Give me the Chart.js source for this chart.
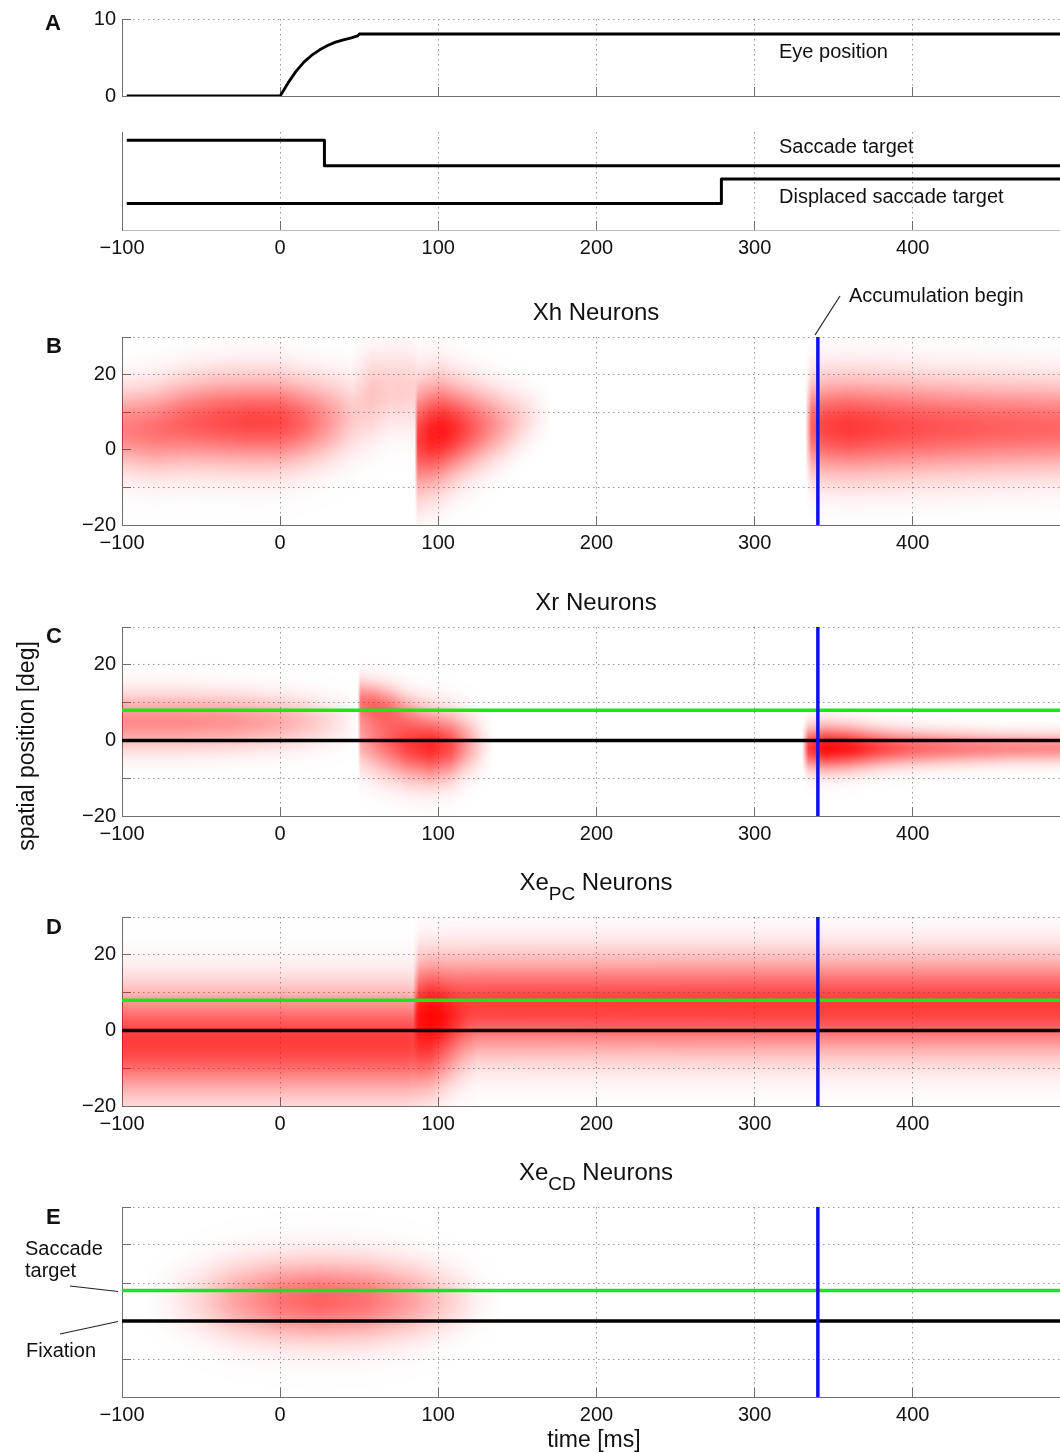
<!DOCTYPE html>
<html>
<head>
<meta charset="utf-8">
<script src="https://cdn.jsdelivr.net/npm/chart.js@4.4.1/dist/chart.umd.min.js"></script>
<style>
  html, body { margin:0; padding:0; background:#fff; overflow:hidden; }
  #fig { position:relative; width:1060px; height:1453px; overflow:hidden;
         font-family:"Liberation Sans", Arial, Helvetica, sans-serif; color:#111; }
  #fig canvas { position:absolute; left:0; }
  .t { position:absolute; white-space:nowrap; line-height:1; }
  .lt { font-size:20px; }
  .pl { font-size:22px; font-weight:bold; }
  .ti { font-size:24px; width:600px; text-align:center; left:296px; }
  .sub { font-size:19px; position:relative; top:10px; }
</style>
</head>
<body>
<div id="fig">
  <canvas id="cA1"></canvas>
  <canvas id="cA2"></canvas>
  <canvas id="cB"></canvas>
  <canvas id="cC"></canvas>
  <canvas id="cD"></canvas>
  <canvas id="cE"></canvas>

  <svg width="1060" height="1453" style="position:absolute;left:0;top:0;pointer-events:none">
    <line x1="815" y1="335" x2="840" y2="296" stroke="#222" stroke-width="1.2"/>
    <line x1="70" y1="1286" x2="118" y2="1291.5" stroke="#222" stroke-width="1.2"/>
    <line x1="60" y1="1334" x2="118" y2="1321.5" stroke="#222" stroke-width="1.2"/>
  </svg>

  <div class="t pl" style="left:45px;top:12.1px">A</div>
  <div class="t pl" style="left:46px;top:335.4px">B</div>
  <div class="t pl" style="left:46px;top:624.7px">C</div>
  <div class="t pl" style="left:46px;top:916.4px">D</div>
  <div class="t pl" style="left:46px;top:1206.4px">E</div>

  <div class="t lt" style="left:779px;top:41.4px">Eye position</div>
  <div class="t lt" style="left:779px;top:136.4px">Saccade target</div>
  <div class="t lt" style="left:779px;top:185.8px">Displaced saccade target</div>
  <div class="t lt" style="left:849px;top:284.8px">Accumulation begin</div>

  <div class="t ti" style="top:299.7px">Xh Neurons</div>
  <div class="t ti" style="top:590.4px">Xr Neurons</div>
  <div class="t ti" style="top:869.7px">Xe<span class="sub">PC</span> Neurons</div>
  <div class="t ti" style="top:1160.4px">Xe<span class="sub">CD</span> Neurons</div>

  <div class="t lt" style="left:25px;top:1238.1px">Saccade</div>
  <div class="t lt" style="left:25px;top:1260.1px">target</div>
  <div class="t lt" style="left:26px;top:1339.8px">Fixation</div>

  <div class="t" style="font-size:23px;left:26px;top:746px;transform:translate(-50%,-50%) rotate(-90deg)">spatial position [deg]</div>
  <div class="t" style="font-size:23px;left:294px;width:600px;text-align:center;top:1427.5px">time [ms]</div>
</div>

<script>
// ================= DATA =================
// axes
const timeRange = [-100, 495];
const timeTicks = [-100, 0, 100, 200, 300, 400];
const posRange = [-20, 30];
const posTicks = [-20, -10, 0, 10, 20, 30];
const posLabelled = [-20, 0, 20];
const eyeRange = [0, 10];
const eyeTicks = [0, 10];
const targetRange = [0, 10];

// panel A: eye position [deg] over time [ms]
const eyeT = [-97, 0, 5, 10, 15, 20, 25, 30, 35, 40, 45, 49, 50, 500];
const eyeV = [0, 0, 1.7, 3.2, 4.4, 5.3, 6.0, 6.55, 7.0, 7.3, 7.55, 7.8, 8.05, 8.05];
// panel A: target traces (schematic levels)
const saccadeTargetT = [-97, 28, 500];
const saccadeTargetV = [9.15, 6.55, 6.55];
const displacedTargetT = [-97, 279, 500];
const displacedTargetV = [2.7, 5.2, 5.2];

// reference markers
const fixationPos = 0;
const targetPos = 8;
const accumulationStart = 340;

// activity bands, rows: [time ms, centre deg, width deg, intensity 0..1]
// B: Xh neurons
const xhFixation = [[-100,5.5,32,0.5],[-80,5.5,34,0.56],[-60,7,35,0.63],[-40,7.5,36,0.69],[-20,7.5,36,0.73],[0,7.5,36,0.72],[15,7.5,34,0.6],[30,8,33,0.42],[45,9,32,0.22],[60,10,31,0.07],[70,10,31,0]];
const xhGhost = [[45,16,30,0],[58,16,33,0.18],[75,16,33,0.2],[85,16,33,0.18],[87,16,33,0]];
const xhSaccade = [[85,3,44,0],[87,3,44,0.74],[95,4,42,0.88],[103,5,40,0.9],[112,5.5,36,0.8],[122,6,33,0.64],[132,6.5,30,0.48],[142,7,27,0.33],[152,8,24,0.19],[162,9,21,0.08],[172,9,19,0]];
const xhAccum = [[332,6,37,0],[336,6,38,0.62],[345,6,39,0.74],[360,6,39,0.78],[385,6,39,0.72],[410,6,38,0.68],[450,6,37,0.63],[495,6,36,0.6],[500,6,36,0.6]];
// C: Xr neurons
const xrFixation = [[-100,5,23,0.45],[-60,5,23,0.45],[-30,5,22,0.42],[0,5,21,0.33],[20,5,20,0.22],[40,5,19,0.08],[50,5,18,0]];
const xrSaccadeUpper = [[49,10,18,0],[51,10,18,0.5],[60,9,18,0.55],[70,8,18,0.45],[80,7,17,0.25],[90,6,16,0.08],[95,6,16,0]];
const xrSaccadeLower = [[49,1,26,0],[51,1,26,0.35],[65,0,28,0.55],[80,-1,28,0.75],[95,-1.5,28,0.85],[108,-1.5,26,0.7],[118,-1,23,0.4],[128,-1,21,0.12],[135,-1,19,0]];
const xrAccum = [[330,-2,16,0],[334,-2,17,0.75],[345,-2,18,0.95],[360,-2,17,0.9],[380,-2,15,0.72],[400,-2,14,0.6],[430,-2,13,0.52],[460,-2,12,0.47],[495,-2,12,0.45],[500,-2,12,0.45]];
// D: Xe_PC neurons
const xePcFixation = [[-100,-3,43,0.76],[0,-3,43,0.76],[80,-3,43,0.76],[95,-3,40,0.68],[105,-3,36,0.45],[115,-3,32,0.18],[125,-3,30,0],[130,-3,30,0]];
const xePcBurst = [[84,3.5,18,0],[87,3.5,20,0.6],[95,3.5,20,0.85],[102,3.5,19,0.75],[110,3.5,16,0.35],[120,3.5,14,0]];
const xePcTarget = [[84,6.5,40,0],[88,6.5,40,0.6],[95,6.5,40,0.72],[130,6.5,40,0.75],[300,6.5,40,0.76],[495,6.5,40,0.76],[500,6.5,40,0.76]];
// E: Xe_CD neurons
const xeCdRemap = [[-85,5.5,24,0],[-70,5.5,26,0.05],[-50,5.5,29,0.17],[-30,5.5,31,0.35],[0,5.5,32,0.55],[25,5.5,32,0.62],[55,5.5,32,0.55],[85,5.5,30,0.36],[105,5.5,27,0.2],[125,5.5,24,0.05],[140,5.5,22,0]];

// ================= STYLE / LAYOUT =================
const FONT = '"Liberation Sans", Arial, Helvetica, sans-serif';
const AXIS = '#6e6e6e';
const GRID = '#9a9a9a';
const NONE = 'rgba(0,0,0,0)';
const GREEN = '#17e817';
const BLUE = '#1010ee';
const PT = 14;
const PLOT_RIGHT = 1063;

const fmt = v => (v < 0 ? '\u2212' + Math.abs(v) : String(v));
const noPad = s => { s.paddingTop = 0; s.paddingBottom = 0; s.paddingLeft = 0; s.paddingRight = 0; };

function timeAxis(o) {
  return {
    type: 'linear', position: 'bottom', min: timeRange[0], max: timeRange[1], z: o.z || 0,
    afterBuildTicks: s => { s.ticks = timeTicks.map(v => ({ value: v })); },
    afterFit: s => { s.height = o.h; noPad(s); },
    grid: {
      color: c => (c.tick && c.tick.value !== timeRange[0]) ? GRID : NONE,
      lineWidth: 1, drawTicks: true, tickLength: -9, tickWidth: 1,
      tickColor: c => (c.tick && c.tick.value !== timeRange[0]) ? AXIS : NONE
    },
    border: { display: true, color: o.axisColor || AXIS, width: 1, dash: [1.5, 3.5] },
    ticks: {
      display: o.labels, padding: 15, color: '#111', autoSkip: false, maxRotation: 0, minRotation: 0,
      font: { family: FONT, size: 20, lineHeight: 1.2 }, callback: v => fmt(v)
    }
  };
}

function posAxis(showLabels) {
  return {
    type: 'linear', position: 'left', min: posRange[0], max: posRange[1], z: 1,
    afterBuildTicks: s => { s.ticks = posTicks.map(v => ({ value: v })); },
    afterFit: s => { s.width = 122; noPad(s); },
    grid: {
      color: c => (c.tick && c.tick.value !== 0 && c.tick.value !== posRange[0]) ? GRID : NONE,
      lineWidth: 1, drawTicks: true, tickLength: -9, tickWidth: 1,
      tickColor: c => (c.tick && c.tick.value !== posRange[0]) ? AXIS : NONE
    },
    border: { display: true, color: AXIS, width: 1, dash: [1.5, 3.5] },
    ticks: {
      padding: 15, color: '#111', autoSkip: false,
      font: { family: FONT, size: 20, lineHeight: 1.2 },
      callback: v => (showLabels && posLabelled.includes(v)) ? fmt(v) : ''
    }
  };
}

// heat band rendering: a line dataset through the band's knots, stroked with a
// pattern holding the band's intensity field (vertical Gaussian profile).
const patternCache = new Map();
function heatPattern(c) {
  const chart = c.chart, area = chart.chartArea, ds = c.dataset;
  const xs = chart.scales && chart.scales.x, ys = chart.scales && chart.scales.y;
  if (!area || !xs || !ys || !ds || !ds.rows || !(area.right > area.left) || !(area.bottom > area.top)) return NONE;
  const key = chart.id + ':' + c.datasetIndex + ':' + [area.left, area.top, area.right, area.bottom, chart.height].join(',');
  if (patternCache.has(key)) return patternCache.get(key);
  const rows = ds.rows;
  const xa = Math.max(area.left, xs.getPixelForValue(rows[0][0]));
  const xb = Math.min(area.right, xs.getPixelForValue(rows[rows.length - 1][0]));
  const px0 = Math.floor(xa), px1 = Math.ceil(xb);
  const py0 = Math.floor(area.top), py1 = Math.ceil(area.bottom);
  const W = px1 - px0, H = py1 - py0;
  if (W <= 0 || H <= 0) return NONE;
  const off = document.createElement('canvas');
  off.width = chart.width; off.height = chart.height;
  const octx = off.getContext('2d');
  const img = octx.createImageData(W, H);
  const ppd = Math.abs(ys.getPixelForValue(1) - ys.getPixelForValue(0));
  let k = 0;
  for (let px = px0; px < px1; px++) {
    const t = xs.getValueForPixel(px + 0.5);
    if (t < rows[0][0] || t > rows[rows.length - 1][0]) continue;
    while (k < rows.length - 2 && t > rows[k + 1][0]) k++;
    const r0 = rows[k], r1 = rows[k + 1];
    let f = (t - r0[0]) / (r1[0] - r0[0]);
    f = Math.min(1, Math.max(0, f));
    const yc = r0[1] + f * (r1[1] - r0[1]);
    const h = r0[2] + f * (r1[2] - r0[2]);
    const a = r0[3] + f * (r1[3] - r0[3]);
    if (a <= 0) continue;
    const ycPx = ys.getPixelForValue(yc);
    const sig = Math.max(1, h * ppd / 4.6);
    for (let py = py0; py < py1; py++) {
      const z = (py + 0.5 - ycPx) / sig;
      const al = a * Math.exp(-0.5 * z * z);
      const i = ((py - py0) * W + (px - px0)) * 4;
      img.data[i] = 255; img.data[i + 1] = 0; img.data[i + 2] = 0;
      img.data[i + 3] = Math.round(Math.min(1, al) * 255);
    }
  }
  octx.putImageData(img, px0, py0);
  const pat = chart.ctx.createPattern(off, 'no-repeat');
  patternCache.set(key, pat);
  return pat;
}

function heatBand(rows) {
  return {
    type: 'line',
    rows: rows,
    data: rows.map(r => ({ x: r[0], y: r[1] })),
    borderColor: c => heatPattern(c),
    borderWidth: c => (c.chart.chartArea ? Math.max(1, c.chart.chartArea.height * 2.5) : 1),
    borderCapStyle: 'butt', borderJoinStyle: 'round',
    pointRadius: 0, pointHoverRadius: 0, pointHitRadius: 0, pointBorderWidth: 0,
    pointBorderColor: NONE, pointBackgroundColor: NONE,
    tension: 0, fill: false, clip: 0, order: 10
  };
}

function hLine(y, color) {
  return {
    type: 'line', data: [{ x: timeRange[0], y: y }, { x: 500, y: y }],
    borderColor: color, borderWidth: 3.5, pointRadius: 0, pointHitRadius: 0,
    tension: 0, fill: false, clip: 0, order: 2, borderCapStyle: 'butt'
  };
}
function vLine(x, color) {
  return {
    type: 'line', data: [{ x: x, y: posRange[0] }, { x: x, y: posRange[1] }],
    borderColor: color, borderWidth: 3.5, pointRadius: 0, pointHitRadius: 0,
    tension: 0, fill: false, clip: 0, order: 0, borderCapStyle: 'butt'
  };
}
function trace(ts, vs, extra) {
  return Object.assign({
    type: 'line', data: ts.map((t, i) => ({ x: t, y: vs[i] })),
    borderColor: '#000', borderWidth: 2.8, pointRadius: 0, pointHitRadius: 0,
    tension: 0, fill: false, clip: 0, borderCapStyle: 'butt', borderJoinStyle: 'round'
  }, extra || {});
}

function baseOptions(scales) {
  return {
    responsive: false, maintainAspectRatio: false, animation: false, devicePixelRatio: 1,
    events: [],
    layout: { padding: { top: PT, left: 0, right: 0, bottom: 0 } },
    plugins: { legend: { display: false }, tooltip: { enabled: false } },
    scales: scales
  };
}

// build a chart so that its plotting area lands on page rows [top, bottom]
function build(id, top, bottom, xh, makeConfig) {
  const cv = document.getElementById(id);
  let h = PT + (bottom - top) + xh;
  cv.width = PLOT_RIGHT; cv.height = h;
  cv.style.width = PLOT_RIGHT + 'px'; cv.style.height = h + 'px';
  let chart = new Chart(cv, makeConfig());
  const a = chart.chartArea;
  const dh = Math.round((bottom - top) - (a.bottom - a.top));
  if (dh !== 0 && Math.abs(dh) < 100) {
    chart.destroy();
    h += dh;
    cv.width = PLOT_RIGHT; cv.height = h;
    cv.style.width = PLOT_RIGHT + 'px'; cv.style.height = h + 'px';
    chart = new Chart(cv, makeConfig());
  }
  cv.style.top = (top - chart.chartArea.top) + 'px';
  return chart;
}

// ---------- A (top): eye position ----------
build('cA1', 19, 96, 14, () => ({
  type: 'line',
  data: { datasets: [trace(eyeT, eyeV)] },
  options: baseOptions({
    x: timeAxis({ h: 14, labels: false }),
    y: {
      type: 'linear', position: 'left', min: eyeRange[0], max: eyeRange[1],
      afterBuildTicks: s => { s.ticks = eyeTicks.map(v => ({ value: v })); },
      afterFit: s => { s.width = 122; noPad(s); },
      grid: { color: c => (c.tick && c.tick.value === eyeRange[1]) ? GRID : NONE, tickLength: -9, tickColor: AXIS },
      border: { color: AXIS, width: 1, dash: [1.5, 3.5] },
      ticks: { padding: 15, color: '#111', font: { family: FONT, size: 20, lineHeight: 1.2 }, callback: v => fmt(v) }
    }
  })
}));

// ---------- A (bottom): targets ----------
build('cA2', 132, 230, 40, () => ({
  type: 'line',
  data: { datasets: [
    trace(saccadeTargetT, saccadeTargetV, { stepped: 'before', borderWidth: 3 }),
    trace(displacedTargetT, displacedTargetV, { stepped: 'before', borderWidth: 3 })
  ] },
  options: baseOptions({
    x: timeAxis({ h: 40, labels: true, axisColor: '#bdbdbd' }),
    y: {
      type: 'linear', position: 'left', min: targetRange[0], max: targetRange[1],
      afterFit: s => { s.width = 122; noPad(s); },
      grid: { display: false, drawTicks: false },
      border: { display: true, color: AXIS, width: 1 },
      ticks: { display: false }
    }
  })
}));

// ---------- B: Xh ----------
build('cB', 337, 525, 40, () => ({
  type: 'line',
  data: { datasets: [
    vLine(accumulationStart, BLUE),
    heatBand(xhFixation), heatBand(xhGhost), heatBand(xhSaccade), heatBand(xhAccum)
  ] },
  options: baseOptions({ x: timeAxis({ h: 40, labels: true, z: 1 }), y: posAxis(true) })
}));

// ---------- C: Xr ----------
build('cC', 627, 816, 40, () => ({
  type: 'line',
  data: { datasets: [
    vLine(accumulationStart, BLUE), hLine(targetPos, GREEN), hLine(fixationPos, '#000'),
    heatBand(xrFixation), heatBand(xrSaccadeUpper), heatBand(xrSaccadeLower), heatBand(xrAccum)
  ] },
  options: baseOptions({ x: timeAxis({ h: 40, labels: true, z: 1 }), y: posAxis(true) })
}));

// ---------- D: Xe_PC ----------
build('cD', 917, 1106, 40, () => ({
  type: 'line',
  data: { datasets: [
    vLine(accumulationStart, BLUE), hLine(targetPos, GREEN), hLine(fixationPos, '#000'),
    heatBand(xePcFixation), heatBand(xePcBurst), heatBand(xePcTarget)
  ] },
  options: baseOptions({ x: timeAxis({ h: 40, labels: true, z: 1 }), y: posAxis(true) })
}));

// ---------- E: Xe_CD ----------
build('cE', 1207, 1397, 40, () => ({
  type: 'line',
  data: { datasets: [
    vLine(accumulationStart, BLUE), hLine(targetPos, GREEN), hLine(fixationPos, '#000'),
    heatBand(xeCdRemap)
  ] },
  options: baseOptions({ x: timeAxis({ h: 40, labels: true, z: 1 }), y: posAxis(false) })
}));
</script>
</body>
</html>
